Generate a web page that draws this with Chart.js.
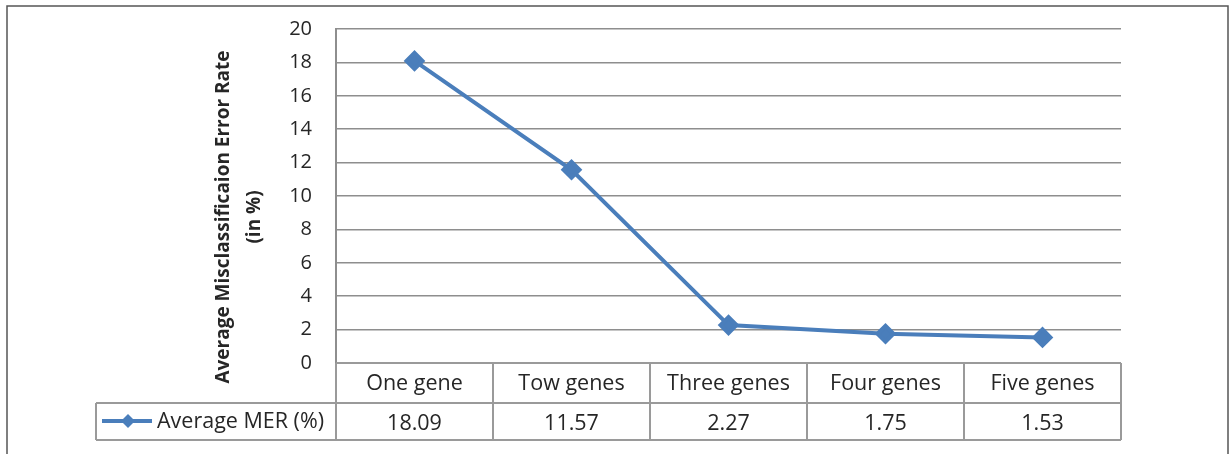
<!DOCTYPE html>
<html lang="en">
<head>
	<meta charset="UTF-8">
	<title>Average MER</title>
	<script src="https://cdn.jsdelivr.net/npm/chart.js"></script>
	<style>
		body {
			margin: 0;
			background: #fff;
		}
		canvas {
			display: block;
		}
	</style>
</head>
<body>
	<canvas id="merChart" width="1230" height="454"></canvas>

	<script>
		// chart data
		const categories = ['One gene', 'Tow genes', 'Three genes', 'Four genes', 'Five genes'];
		const merValues = [18.09, 11.57, 2.27, 1.75, 1.53];
		const valueLabels = ['18.09', '11.57', '2.27', '1.75', '1.53'];
		const seriesName = 'Average MER (%)';
		const yTitle = ['Average Misclassificaion Error Rate', '(in %)'];

		const lineColor = '#4a7ebb';
		const gridColor = '#8e8e8e';
		const tableColor = '#9a9a9a';
		const textColor = '#262626';
		const fontFamily = '"Open Sans", Lato, sans-serif';

		// draws the frame, the y title and the data table under the plot
		const tablePlugin = {
			id: 'dataTable',
			afterDraw(chart) {
				const ctx = chart.ctx;
				const area = chart.chartArea;
				const x = chart.scales.x;
				const rowMid = area.bottom + 40;
				const rowBottom = area.bottom + 77;
				const legendLeft = 96;

				ctx.save();

				// outer frame
				ctx.strokeStyle = '#555';
				ctx.lineWidth = 1.5;
				ctx.beginPath();
				ctx.moveTo(7, 470);
				ctx.lineTo(7, 6);
				ctx.lineTo(1228, 6);
				ctx.lineTo(1228, 470);
				ctx.stroke();

				// table grid
				ctx.strokeStyle = tableColor;
				ctx.lineWidth = 2;
				ctx.beginPath();
				ctx.moveTo(area.left, area.bottom);
				ctx.lineTo(area.right, area.bottom);
				ctx.moveTo(legendLeft, rowMid);
				ctx.lineTo(area.right, rowMid);
				ctx.moveTo(legendLeft, rowBottom);
				ctx.lineTo(area.right, rowBottom);
				ctx.moveTo(legendLeft, rowMid);
				ctx.lineTo(legendLeft, rowBottom);
				const half = (x.getPixelForValue(1) - x.getPixelForValue(0)) / 2;
				for (let i = 0; i <= categories.length; i++) {
					const px = i < categories.length ? x.getPixelForValue(i) - half : x.getPixelForValue(i - 1) + half;
					ctx.moveTo(px, area.bottom);
					ctx.lineTo(px, rowBottom);
				}
				ctx.stroke();

				// cells
				ctx.fillStyle = textColor;
				ctx.font = '21.5px ' + fontFamily;
				ctx.textAlign = 'center';
				ctx.textBaseline = 'middle';
				categories.forEach((c, i) => {
					const px = x.getPixelForValue(i);
					ctx.fillText(c, px, area.bottom + 21);
					ctx.fillText(valueLabels[i], px, rowMid + 21);
				});

				// legend key
				const ky = rowMid + 18;
				ctx.strokeStyle = lineColor;
				ctx.lineWidth = 4;
				ctx.beginPath();
				ctx.moveTo(102, ky);
				ctx.lineTo(152, ky);
				ctx.stroke();
				ctx.fillStyle = lineColor;
				ctx.beginPath();
				ctx.moveTo(128, ky - 7);
				ctx.lineTo(135, ky);
				ctx.lineTo(128, ky + 7);
				ctx.lineTo(121, ky);
				ctx.closePath();
				ctx.fill();
				ctx.fillStyle = textColor;
				ctx.textAlign = 'left';
				ctx.fillText(seriesName, 157, ky + 1);

				// y axis title
				ctx.translate(224, 217);
				ctx.rotate(-Math.PI / 2);
				ctx.font = 'bold 19px ' + fontFamily;
				ctx.textAlign = 'center';
				ctx.fillText(yTitle[0], 0, 0);
				ctx.fillText(yTitle[1], 0, 31);

				ctx.restore();
			}
		};

		new Chart(document.getElementById('merChart'), {
			type: 'line',
			data: {
				labels: categories,
				datasets: [{
					label: seriesName,
					data: merValues,
					borderColor: lineColor,
					backgroundColor: lineColor,
					borderWidth: 4,
					pointStyle: 'rectRot',
					pointRadius: 8,
					pointHoverRadius: 8,
					tension: 0
				}]
			},
			options: {
				responsive: false,
				animation: false,
				layout: {
					padding: { top: 29, right: 109, left: 0, bottom: 0 }
				},
				plugins: {
					legend: { display: false },
					tooltip: { enabled: false }
				},
				scales: {
					x: {
						offset: true,
						grid: { display: false },
						border: { display: false },
						ticks: { display: false },
						afterFit: scale => { scale.height = 91; }
					},
					y: {
						min: 0,
						max: 20,
						ticks: {
							stepSize: 2,
							padding: 24,
							color: textColor,
							font: { family: fontFamily, size: 20 }
						},
						grid: { color: gridColor, lineWidth: 1.5, drawTicks: false },
						border: { color: gridColor, width: 2 },
						afterFit: scale => {
							scale.width = 336;
							scale.paddingTop = 0;
							scale.paddingBottom = 0;
						}
					}
				}
			},
			plugins: [tablePlugin]
		});
	</script>
</body>
</html>
